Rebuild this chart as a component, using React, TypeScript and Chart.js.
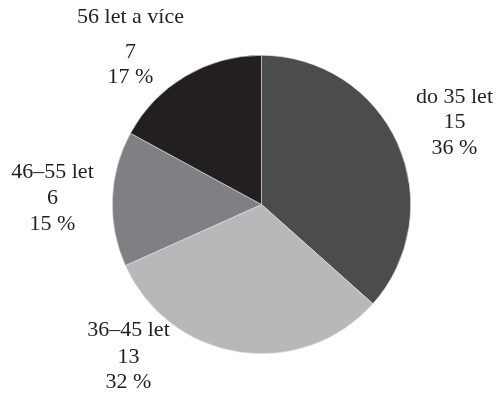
import React, { useEffect, useRef } from "react";
import { Chart, registerables } from "chart.js";

Chart.register(...registerables);

const categories = ["do 35 let", "36–45 let", "46–55 let", "56 let a více"];
const counts = [15, 13, 6, 7];
const percents = [36, 32, 15, 17];
const colors = ["#4b4c4e", "#b7b8ba", "#7f8083", "#231f20"];

// label placement relative to pie centre (px): first line centre, and line gaps
const labelOffsets = [
  { dx: 193, dy: -107, gaps: [25, 26] },
  { dx: -133, dy: 126, gaps: [27, 25] },
  { dx: -209, dy: -32, gaps: [26, 26] },
  { dx: -131, dy: -187, gaps: [35, 25] },
];

const labelPlugin = {
  id: "outerLabels",
  afterDatasetsDraw(chart: any) {
    const meta = chart.getDatasetMeta(0);
    const ctx = chart.ctx;
    ctx.save();
    ctx.font = '22px "Liberation Serif", serif';
    ctx.fillStyle = "#231f20";
    ctx.textAlign = "center";
    ctx.textBaseline = "middle";
    meta.data.forEach((arc: any, i: number) => {
      const o = labelOffsets[i];
      const lines = [categories[i], String(counts[i]), percents[i] + "\u00a0%"];
      let y = arc.y + o.dy;
      const x = arc.x + o.dx;
      lines.forEach((t, j) => {
        ctx.fillText(t, x, y);
        if (j < o.gaps.length) y += o.gaps[j];
      });
    });
    ctx.restore();
  },
};

export default function App() {
  const ref = useRef<HTMLCanvasElement>(null);
  useEffect(() => {
    document.body.style.margin = "0";
    const chart = new Chart(ref.current!, {
      type: "pie",
      data: {
        labels: categories,
        datasets: [
          {
            data: counts,
            backgroundColor: colors,
            borderColor: "#e8e8e8",
            borderWidth: 0.6,
          },
        ],
      },
      options: {
        animation: false,
        responsive: false,
        devicePixelRatio: 1,
        layout: { padding: { left: 112, right: 89, top: 55, bottom: 49 } },
        plugins: {
          legend: { display: false },
          tooltip: { enabled: false },
        },
      },
      plugins: [labelPlugin],
    });
    return () => chart.destroy();
  }, []);
  return (
    <div style={{ position: "absolute", left: 0, top: 0, width: 500, height: 403, background: "#fff" }}>
      <canvas ref={ref} width={500} height={403} style={{ display: "block" }} />
    </div>
  );
}
